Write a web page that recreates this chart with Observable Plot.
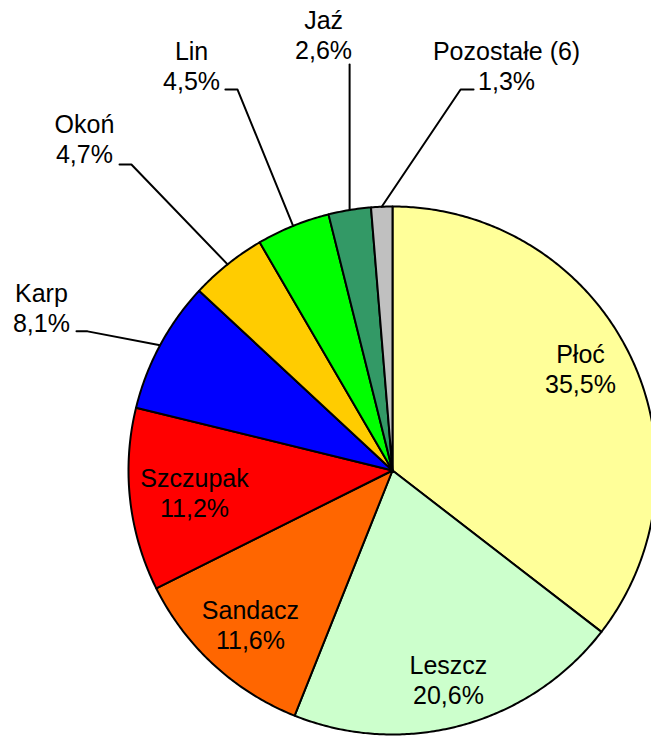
<!DOCTYPE html>
<html>
<head>
<meta charset="utf-8">
<script src="https://cdn.jsdelivr.net/npm/d3@7"></script>
<script src="https://cdn.jsdelivr.net/npm/@observablehq/plot@0.6"></script>
<style>
  html, body { margin: 0; padding: 0; background: #fff; }
  svg { display: block; }
</style>
</head>
<body>
<script>
// ---- data ----
const names  = ["Płoć", "Leszcz", "Sandacz", "Szczupak", "Karp", "Okoń", "Lin", "Jaź", "Pozostałe (6)"];
const shares = [35.5, 20.6, 11.6, 11.2, 8.1, 4.7, 4.5, 2.6, 1.3];
const colors = ["#FFFF99", "#CCFFCC", "#FF6600", "#FF0000", "#0000FF", "#FFCC00", "#00FF00", "#339966", "#C0C0C0"];

// ---- layout (units of pie radius, origin at pie centre) ----
const W = 651, H = 737, CX = 392, CY = 470, R = 264;
// label anchor: centre x, baseline of last line
const labelPos = [
  [0.712, 0.292], [0.212, -0.883], [-0.538, -0.678], [-0.750, -0.178],
  [-1.330, 0.523], [-1.167, 1.163], [-0.761, 1.443], [-0.261, 1.557], [0.432, 1.443]
];
// leader lines: [start, elbow] (the end is on the pie edge at the slice's mid angle)
const leaderPos = {
  4: [[-1.197, 0.527], [-1.155, 0.527]],
  5: [[-1.034, 1.159], [-0.989, 1.159]],
  6: [[-0.633, 1.443], [-0.587, 1.443]],
  7: [null, [null, 1.538]],
  8: [[0.307, 1.443], [0.258, 1.443]]
};

const pct = shares.map(v => v.toFixed(1).replace(".", ",") + "%");
const arcs = d3.pie().sort(null).value(d => d)(shares);

const marks = [];
arcs.forEach((a, i) => {
  const pts = [{x: 0, y: 0}];
  const n = Math.max(2, Math.ceil((a.endAngle - a.startAngle) / (Math.PI / 360)));
  for (let k = 0; k <= n; k++) {
    const t = a.startAngle + (a.endAngle - a.startAngle) * k / n;
    pts.push({x: Math.sin(t), y: Math.cos(t)});
  }
  marks.push(Plot.line(pts, {
    x: "x", y: "y", curve: "linear-closed",
    fill: colors[i], stroke: "black", strokeWidth: 2, strokeLinejoin: "round"
  }));
});

// leaders
const leaders = [];
Object.entries(leaderPos).forEach(([k, seg]) => {
  const i = +k, a = arcs[i];
  const m = (a.startAngle + a.endAngle) / 2;
  const ex = Math.sin(m), ey = Math.cos(m);
  const pts = seg.map(p => p ? {x: p[0] ?? ex, y: p[1]} : null).filter(Boolean);
  if (pts.length === 1) pts.unshift(pts[0]);
  pts.forEach(p => leaders.push({name: names[i], x: p.x, y: p.y}));
  leaders.push({name: names[i], x: ex, y: ey});
});
marks.push(Plot.line(leaders, {x: "x", y: "y", z: "name", stroke: "black", strokeWidth: 2}));

// labels
const labelData = names.map((nm, i) => ({text: nm + "\n" + pct[i], x: labelPos[i][0], y: labelPos[i][1]}));
marks.push(Plot.text(labelData, {
  x: "x", y: "y", text: "text",
  textAnchor: "middle", lineAnchor: "bottom", lineHeight: 1.2,
  fontSize: 25, fill: "black"
}));

const chart = Plot.plot({
  width: W, height: H,
  margin: 0,
  style: {background: "white", fontFamily: "'Liberation Sans', Arial, sans-serif", overflow: "hidden"},
  x: {domain: [-CX / R, (W - CX) / R], axis: null},
  y: {domain: [-(H - CY) / R, CY / R], axis: null},
  marks
});
document.body.appendChild(chart);
</script>
</body>
</html>
